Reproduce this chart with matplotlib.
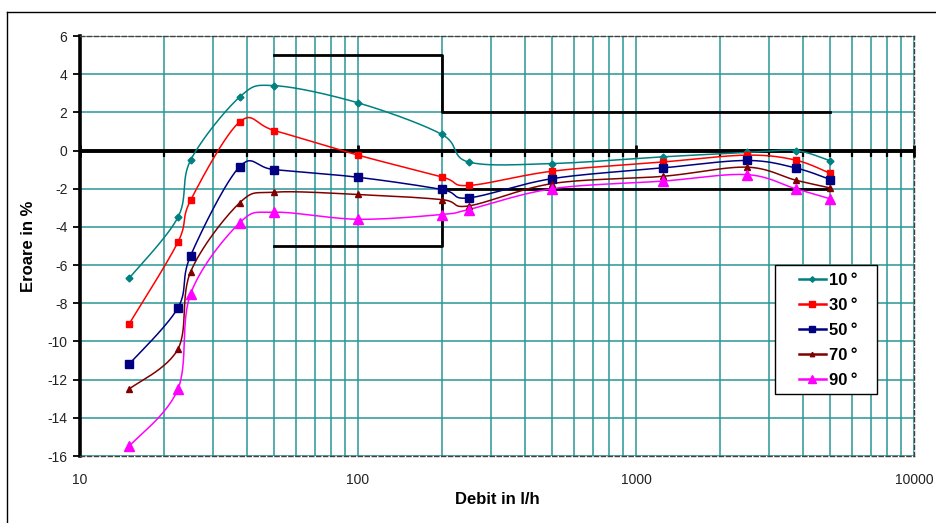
import numpy as np
import matplotlib
matplotlib.use("Agg")
import matplotlib.pyplot as plt
from matplotlib.lines import Line2D
from matplotlib.patches import Rectangle
from matplotlib.ticker import FixedLocator, FixedFormatter, NullFormatter, LogLocator

plt.rcParams['font.family'] = ['Liberation Sans', 'DejaVu Sans']
plt.rcParams['axes.unicode_minus'] = False

# Measured flows (l/h) and errors (%) per angle
flow = [15, 22.5, 25, 37.5, 50, 100, 200, 250, 500, 1250, 2500, 3750, 5000]
err_10 = [-6.7, -3.5, -0.5, 2.8, 3.4, 2.5, 0.85, -0.6, -0.68, -0.33, -0.1, 0.0, -0.54]
err_30 = [-9.1, -4.8, -2.6, 1.5, 1.05, -0.24, -1.38, -1.83, -1.08, -0.6, -0.24, -0.5, -1.2]
err_50 = [-11.2, -8.24, -5.5, -0.85, -1.0, -1.4, -2.04, -2.48, -1.47, -0.91, -0.52, -0.91, -1.52]
err_70 = [-12.5, -10.4, -6.35, -2.74, -2.18, -2.3, -2.57, -2.9, -1.73, -1.35, -0.87, -1.55, -1.96]
err_90 = [-15.5, -12.5, -7.5, -3.79, -3.23, -3.6, -3.35, -3.09, -2.0, -1.6, -1.26, -2.0, -2.53]

labels = ['10\u2009°', '30\u2009°', '50\u2009°', '70\u2009°', '90\u2009°']
series = [err_10, err_30, err_50, err_70, err_90]
colors = ['#008080', '#FF0000', '#000080', '#800000', '#FF00FF']
markers = ['D', 's', 's', '^', '^']
msizes = [3.5, 5, 6, 4, 7]

# tolerance band (upper / lower limit)
limit_x = [50, 200, 200, 5000]
limit_hi = [5, 5, 2, 2]
limit_lo = [-5, -5, -2, -2]

y_ticks = list(range(-16, 7, 2))
x_major = [10, 100, 1000, 10000]


def smooth(x, y, n=30):
    # Excel style smoothed line: bezier through the points, in log-x space
    p = np.column_stack([np.log10(x), y])
    pts = np.vstack([p[0], p, p[-1]])
    out = []
    t = np.linspace(0, 1, n)[:, None]
    for i in range(1, len(pts) - 2):
        p0, p1, p2, p3 = pts[i - 1], pts[i], pts[i + 1], pts[i + 2]
        c1 = p1 + (p2 - p0) / 6
        c2 = p2 - (p3 - p1) / 6
        seg = (1 - t) ** 3 * p1 + 3 * (1 - t) ** 2 * t * c1 + 3 * (1 - t) * t ** 2 * c2 + t ** 3 * p2
        out.append(seg if i == 1 else seg[1:])
    s = np.vstack(out)
    return 10 ** s[:, 0], s[:, 1]


fig = plt.figure(figsize=(9.36, 5.23), dpi=100)
ax = fig.add_axes([80 / 936, 1 - 456 / 523, 834 / 936, 420 / 523])

ax.set_xscale('log')
ax.set_xlim(10, 10000)
ax.set_ylim(-16, 6)

grid_c = '#2a9696'
ax.xaxis.set_major_locator(FixedLocator(x_major))
ax.xaxis.set_major_formatter(FixedFormatter([str(v) for v in x_major]))
ax.xaxis.set_minor_locator(LogLocator(base=10, subs=np.arange(2, 10)))
ax.xaxis.set_minor_formatter(NullFormatter())
ax.set_yticks(y_ticks)
ax.grid(True, which='both', axis='x', color=grid_c, lw=1.1, zorder=0)
ax.grid(True, which='major', axis='y', color=grid_c, lw=1.1, zorder=0)
ax.set_axisbelow(True)

ax.tick_params(axis='x', which='both', length=0, pad=12, labelsize=10, labelcolor='#222222')
ax.tick_params(axis='y', which='major', direction='out', length=5, width=1.3,
               color='black', pad=4, labelsize=10, labelcolor='#222222')

for side in ['top', 'right', 'bottom']:
    ax.spines[side].set_linestyle((0, (3, 2)))
    ax.spines[side].set_color('#404040')
    ax.spines[side].set_linewidth(1.0)
ax.spines['left'].set_color('black')
ax.spines['left'].set_linewidth(2.6)

# tolerance limits
ax.plot(limit_x, limit_hi, color='black', lw=2, zorder=2.5)
ax.plot(limit_x, limit_lo, color='black', lw=2, zorder=2.5)

# zero axis with tick marks
ax.axhline(0, color='black', lw=2.8, zorder=2.6)
minor_locs = [v for v in ax.xaxis.get_minorticklocs() if 10 < v < 10000]
ax.plot(minor_locs, [0] * len(minor_locs), ls='none', marker=3, ms=4, mew=1.6,
        color='black', zorder=2.6)
ax.plot(x_major, [0] * len(x_major), ls='none', marker='|', ms=9, mew=2,
        color='black', zorder=2.6, clip_on=False)

handles = []
for lab, ys, c, m, ms in zip(labels, series, colors, markers, msizes):
    sx, sy = smooth(flow, ys)
    ax.plot(sx, sy, color=c, lw=1.1, zorder=3)
    ax.plot(flow, ys, ls='none', marker=m, ms=ms, color=c, mec=c, zorder=4)
    handles.append(Line2D([], [], color=c, lw=1.8, marker=m, ms=ms * 0.8, mec=c, label=lab))

# legend box (white, black border) with the entries placed inside it
ax.add_patch(Rectangle((775 / 936, 1 - 394 / 523), 102 / 936, 129 / 523,
                       transform=fig.transFigure, facecolor='white',
                       edgecolor='black', lw=1.0, zorder=5, clip_on=False))
leg = ax.legend(handles=handles, loc='upper left',
                bbox_to_anchor=(799 / 936, 1 - 273 / 523), bbox_transform=fig.transFigure,
                prop={'weight': 'bold', 'size': 12}, handlelength=1.6, handletextpad=0.2,
                labelspacing=0.6, borderpad=0, borderaxespad=0, frameon=False)
leg.set_zorder(6)

ax.set_xlabel('Debit in l/h', fontsize=12, fontweight='bold', labelpad=4)
ax.set_ylabel('Eroare in %', fontsize=12, fontweight='bold')
ax.yaxis.set_label_coords(-0.053, 0.5)

# outer chart frame (left and top edges visible)
fig.add_artist(Line2D([7 / 936, 7 / 936], [0, 1 - 12 / 523], transform=fig.transFigure,
                      color='black', lw=1))
fig.add_artist(Line2D([7 / 936, 1], [1 - 12 / 523, 1 - 12 / 523], transform=fig.transFigure,
                      color='black', lw=1))

fig.savefig('out.png', dpi=100)
